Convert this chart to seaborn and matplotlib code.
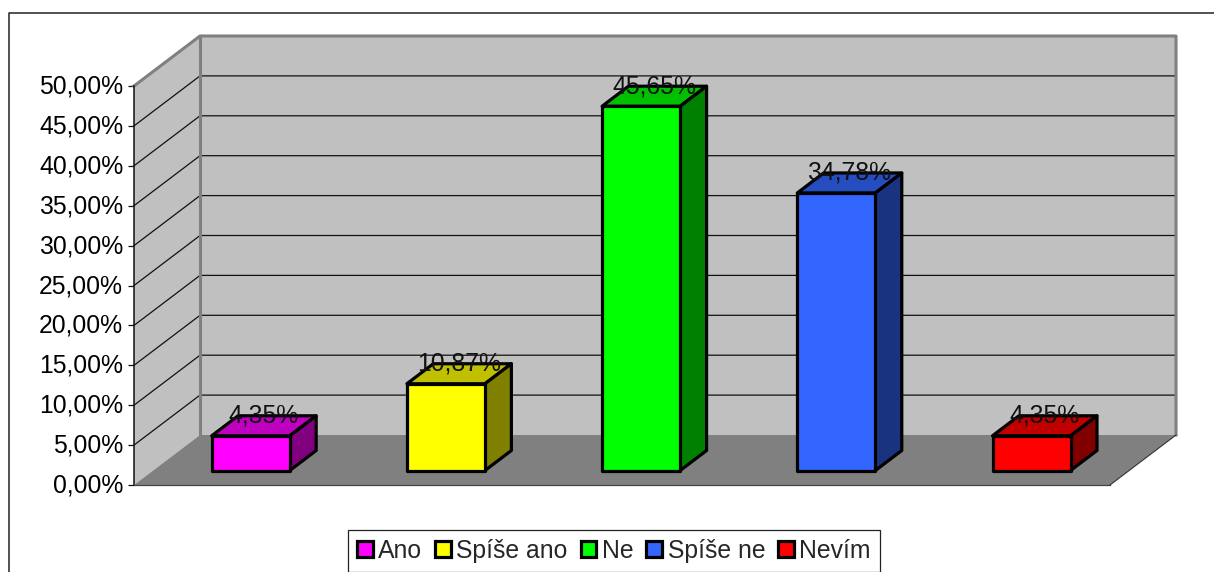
import matplotlib
matplotlib.use("Agg")
import matplotlib.pyplot as plt
from matplotlib.lines import Line2D
from matplotlib.patches import Rectangle
from matplotlib.transforms import ScaledTranslation
import pandas as pd
import seaborn as sns

# Survey answers and their shares in percent
categories = ["Ano", "Spíše ano", "Ne", "Spíše ne", "Nevím"]
shares = [4.35, 10.87, 45.65, 34.78, 4.35]
front_colors = ["#FF00FF", "#FFFF00", "#00FF00", "#3366FF", "#FF0000"]
top_colors = ["#C000C0", "#C0C000", "#00C000", "#264DBF", "#C00000"]
side_colors = ["#800080", "#808000", "#008000", "#1A3380", "#800000"]
value_ticks = [0, 5, 10, 15, 20, 25, 30, 35, 40, 45, 50]

WIDTH, HEIGHT, DPI = 1214, 572, 100
# Oblique projection of the plot box: full depth in category and value units
DEPTH_X = 66 / 195.2
DEPTH_Y = 50 / 7.98
BAR_WIDTH = 0.4
BAR_START = 0.29   # share of the box depth in front of the bars
BAR_DEPTH = 0.40   # share of the box depth taken up by the bars
BAR_LW = 2.3

WALL = "#C0C0C0"
FLOOR = "#808080"
EDGE = "#808080"
INK = "#111111"

sns.set_theme(style="white")
plt.rcParams["font.family"] = ["Liberation Sans", "DejaVu Sans"]
FONT_SIZE = 17.8

fig = plt.figure(figsize=(WIDTH / DPI, HEIGHT / DPI), dpi=DPI, facecolor="white")
ax = fig.add_axes([134 / WIDTH, (572 - 485) / HEIGHT, 976 / WIDTH, 399 / HEIGHT])
ax.patch.set_visible(False)

df = pd.DataFrame({"odpoved": categories, "podil": shares})
sns.barplot(
    data=df, x="odpoved", y="podil", hue="odpoved", palette=front_colors,
    width=BAR_WIDTH, dodge=False, edgecolor="black", linewidth=BAR_LW,
    saturation=1, legend=False, ax=ax, zorder=4,
)
bars = sorted((p for p in ax.patches if isinstance(p, Rectangle)), key=lambda p: p.get_x())

x_lo, x_hi = -0.5, len(categories) - 0.5
ax.set_xlim(x_lo, x_hi)
ax.set_ylim(value_ticks[0], value_ticks[-1])


def poly(xs, ys, face, z, edge="none", lw=0.0):
    ax.fill(xs, ys, facecolor=face, edgecolor=edge, linewidth=lw, zorder=z,
            clip_on=False, joinstyle="round")


def line(xs, ys, color, lw, z):
    ax.plot(xs, ys, color=color, linewidth=lw, zorder=z, clip_on=False,
            solid_capstyle="projecting")


# Side wall, back wall and floor of the box
top = value_ticks[-1]
poly([x_lo, x_lo + DEPTH_X, x_lo + DEPTH_X, x_lo],
     [top, top + DEPTH_Y, DEPTH_Y, 0], WALL, 1)
poly([x_lo + DEPTH_X, x_hi + DEPTH_X, x_hi + DEPTH_X, x_lo + DEPTH_X],
     [top + DEPTH_Y, top + DEPTH_Y, DEPTH_Y, DEPTH_Y], WALL, 1)
poly([x_lo, x_lo + DEPTH_X, x_hi + DEPTH_X, x_hi],
     [0, DEPTH_Y, DEPTH_Y, 0], FLOOR, 1.2)

# Gridlines run across the side wall and along the back wall
for v in value_ticks[1:-1]:
    line([x_lo, x_lo + DEPTH_X, x_hi + DEPTH_X], [v, v + DEPTH_Y, v + DEPTH_Y],
         INK, 0.9, 1.5)

# Grey outline of the walls
line([x_lo, x_lo + DEPTH_X, x_hi + DEPTH_X, x_hi + DEPTH_X],
     [top, top + DEPTH_Y, top + DEPTH_Y, DEPTH_Y], EDGE, 2.2, 1.8)
line([x_lo + DEPTH_X, x_lo + DEPTH_X], [DEPTH_Y, top + DEPTH_Y], EDGE, 2.2, 1.8)
line([x_hi, x_hi + DEPTH_X], [0, DEPTH_Y], "#333333", 0.8, 1.8)

# Move each bar into the box and add its top and side faces
sx = BAR_START * DEPTH_X
sy = BAR_START * DEPTH_Y
bx = BAR_DEPTH * DEPTH_X
by = BAR_DEPTH * DEPTH_Y
for bar, share, top_c, side_c in zip(bars, shares, top_colors, side_colors):
    bar.set_x(bar.get_x() + sx)
    bar.set_y(sy)
    bar.set_clip_on(False)
    bar.set_joinstyle("round")
    x0 = bar.get_x()
    x1 = x0 + BAR_WIDTH
    y0 = sy
    y1 = sy + share
    poly([x0, x0 + bx, x1 + bx, x1], [y1, y1 + by, y1 + by, y1], top_c, 3,
         edge="black", lw=BAR_LW)
    poly([x1, x1 + bx, x1 + bx, x1], [y0, y0 + by, y1 + by, y1], side_c, 3,
         edge="black", lw=BAR_LW)
    ax.annotate(f"{share:.2f}%".replace(".", ","),
                xy=((x0 + x1 + bx) / 2, y1 + by), xytext=(0, 0),
                textcoords="offset points", ha="center", va="center",
                fontsize=FONT_SIZE, color="#111111", zorder=6, annotation_clip=False)

# Value axis
ax.set_xlabel("")
ax.set_ylabel("")
ax.set_xticks([])
ax.set_yticks(value_ticks)
ax.set_yticklabels([f"{v:.2f}%".replace(".", ",") for v in value_ticks],
                   fontsize=FONT_SIZE, color="black")
ax.tick_params(axis="y", left=True, length=4.3, width=0.9, color=INK, pad=3.5)
lift = ScaledTranslation(0, 1.4 / 72, fig.dpi_scale_trans)
for label in ax.get_yticklabels():
    label.set_transform(label.get_transform() + lift)
for name in ("top", "right"):
    ax.spines[name].set_visible(False)
ax.spines["left"].set_color(INK)
ax.spines["left"].set_linewidth(1.1)
ax.spines["bottom"].set_color("#444444")
ax.spines["bottom"].set_linewidth(0.9)
for spine in ax.spines.values():
    spine.set_zorder(2)

# Legend along the lower edge
handles = [Rectangle((0, 0), 1, 1, facecolor=c, edgecolor="black", linewidth=BAR_LW)
           for c in front_colors]
leg = ax.legend(
    handles, categories, ncol=len(categories), loc="center left",
    bbox_to_anchor=(348 / WIDTH, (572 - 551) / HEIGHT), bbox_transform=fig.transFigure,
    fontsize=FONT_SIZE, frameon=True, fancybox=False, framealpha=1,
    edgecolor="#222222", handlelength=0.64, handleheight=0.64, handletextpad=0.22,
    columnspacing=0.52, borderpad=0.36, borderaxespad=0,
)
leg.get_frame().set_linewidth(0.9)
leg.set_zorder(7)

# Chart area border, cut by the right and lower edges of the image
fig.add_artist(Line2D([9 / WIDTH, 9 / WIDTH, 1], [0, 1 - 13 / HEIGHT, 1 - 13 / HEIGHT],
                      color="#222222", linewidth=1.1, transform=fig.transFigure))

fig.savefig("out.png", dpi=DPI, facecolor="white")
